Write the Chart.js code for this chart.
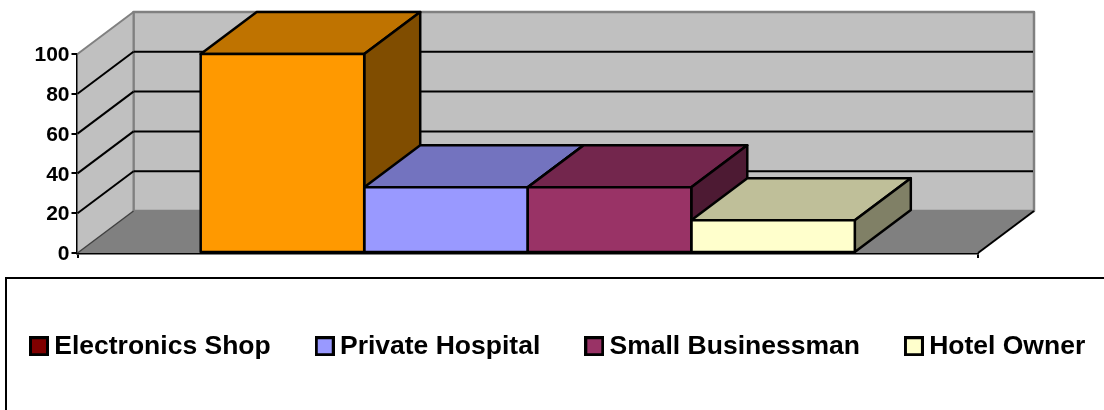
<!DOCTYPE html>
<html>
<head>
<meta charset="utf-8">
<style>
  html, body { margin: 0; padding: 0; background: #ffffff; }
  canvas { display: block; }
</style>
<script src="https://cdn.jsdelivr.net/npm/chart.js@4/dist/chart.umd.min.js"></script>
</head>
<body>
<canvas id="chart" width="1104" height="410"></canvas>
<script>
// Survey shares per respondent group
const categories = [''];
const seriesNames = ['Electronics Shop', 'Private Hospital', 'Small Businessman', 'Hotel Owner'];
const seriesValues = [100, 33, 33, 16.5];
const barColors = ['#FF9900', '#9999FF', '#993366', '#FFFFCC'];
const swatchColors = ['#800000', '#9999FF', '#993366', '#FFFFCC'];
const yTickStep = 20;
const yMax = 100;

// Oblique projection offset of the box depth, in pixels
const DEPTH_X = 56;
const DEPTH_Y = -42;
const WALL = '#C0C0C0';
const FLOOR = '#808080';
const WALL_EDGE = '#808080';
const INK = '#000000';
const BAR_LINE = 2.5;

function shade(hex, factor) {
  const n = parseInt(hex.slice(1), 16);
  const c = [n >> 16, (n >> 8) & 255, n & 255].map(v => Math.round(v * factor));
  return `rgb(${c[0]},${c[1]},${c[2]})`;
}

function poly(ctx, pts, fill, stroke, lw) {
  ctx.beginPath();
  pts.forEach((p, i) => (i ? ctx.lineTo(p[0], p[1]) : ctx.moveTo(p[0], p[1])));
  ctx.closePath();
  if (fill) { ctx.fillStyle = fill; ctx.fill(); }
  if (stroke) { ctx.strokeStyle = stroke; ctx.lineWidth = lw; ctx.lineJoin = 'round'; ctx.stroke(); }
}

function segment(ctx, x0, y0, x1, y1, color, lw) {
  ctx.beginPath();
  ctx.moveTo(x0, y0);
  ctx.lineTo(x1, y1);
  ctx.strokeStyle = color;
  ctx.lineWidth = lw;
  ctx.stroke();
}

function swatch(color) {
  const c = document.createElement('canvas');
  c.width = 20;
  c.height = 20;
  const g = c.getContext('2d');
  g.fillStyle = INK;
  g.fillRect(0, 0, 20, 20);
  g.fillStyle = color;
  g.fillRect(3, 3, 14, 14);
  return c;
}

// Walls, floor and gridlines behind the bars
const box3d = {
  id: 'box3d',
  beforeDatasetsDraw(chart) {
    const { ctx, chartArea: a, scales: { y } } = chart;
    const backL = a.left + DEPTH_X, backR = a.right + DEPTH_X;
    const backT = a.top + DEPTH_Y, backB = a.bottom + DEPTH_Y;
    ctx.save();
    poly(ctx, [[backL, backT], [backR, backT], [backR, backB], [backL, backB]], WALL, WALL_EDGE, 2.5);
    poly(ctx, [[a.left, a.bottom], [backL, backB], [backL, backT], [a.left, a.top]], WALL);
    segment(ctx, a.left, a.top, backL, backT, WALL_EDGE, 2);
    poly(ctx, [[a.left, a.bottom], [a.right, a.bottom], [backR, backB], [backL, backB]], FLOOR);
    segment(ctx, backL, backB, backR, backB, WALL_EDGE, 2);
    segment(ctx, backL, backT, backL, backB, WALL_EDGE, 2);
    y.ticks.forEach(t => {
      if (t.value === 0 || t.value === yMax) return;
      const py = y.getPixelForValue(t.value);
      segment(ctx, a.left, py, backL, py + DEPTH_Y, INK, 2);
      segment(ctx, backL, py + DEPTH_Y, backR - 1, py + DEPTH_Y, INK, 2);
    });
    segment(ctx, a.left, a.bottom, backL, backB, '#404040', 1.5);
    segment(ctx, a.right, a.bottom, backR, backB, INK, 2);

    // Top and side face of every bar, extruded from the bar rectangle
    chart.data.datasets.forEach((ds, i) => {
      const bar = chart.getDatasetMeta(i).data[0];
      const l = bar.x - bar.width / 2, r = bar.x + bar.width / 2;
      const top = bar.y, base = bar.base;
      poly(ctx, [[l, top], [r, top], [r + DEPTH_X, top + DEPTH_Y], [l + DEPTH_X, top + DEPTH_Y]],
        shade(ds.backgroundColor, 0.75), INK, BAR_LINE);
      poly(ctx, [[r, top], [r + DEPTH_X, top + DEPTH_Y], [r + DEPTH_X, base + DEPTH_Y], [r, base]],
        shade(ds.backgroundColor, 0.5), INK, BAR_LINE);
    });
    ctx.restore();
  },
  // Shared outline of the front faces, so neighbouring bars meet on one line
  afterDatasetsDraw(chart) {
    const { ctx } = chart;
    ctx.save();
    chart.data.datasets.forEach((ds, i) => {
      const bar = chart.getDatasetMeta(i).data[0];
      const l = bar.x - bar.width / 2, r = bar.x + bar.width / 2;
      poly(ctx, [[l, bar.y], [r, bar.y], [r, bar.base], [l, bar.base]], null, INK, BAR_LINE);
    });
    ctx.restore();
  },
  // Frame around the legend, which runs off the right and bottom of the canvas
  beforeDraw(chart) {
    const { ctx, width, height } = chart;
    ctx.save();
    ctx.beginPath();
    ctx.moveTo(6, height);
    ctx.lineTo(6, 278);
    ctx.lineTo(width, 278);
    ctx.strokeStyle = INK;
    ctx.lineWidth = 2;
    ctx.stroke();
    ctx.restore();
  },
  // Legend sits in its own frame below the plot
  afterLayout(chart) {
    const lg = chart.legend;
    const pad = lg.options.labels.padding;
    lg.left = 37 - pad;
    lg.right = chart.width + 400;
    lg.top = 333 - pad;
    lg.bottom = chart.height;
  }
};

new Chart(document.getElementById('chart'), {
  type: 'bar',
  data: {
    labels: categories,
    datasets: seriesNames.map((name, i) => ({
      label: name,
      data: [seriesValues[i]],
      backgroundColor: barColors[i],
      borderWidth: 0,
      categoryPercentage: 0.7264,
      barPercentage: 1
    }))
  },
  options: {
    responsive: false,
    animation: false,
    layout: { padding: { top: 54, right: 126, left: 0, bottom: 0 } },
    plugins: {
      title: { display: false },
      tooltip: { enabled: false },
      legend: {
        display: true,
        position: 'chartArea',
        align: 'start',
        labels: {
          color: INK,
          font: { family: '"Liberation Sans", Arial, sans-serif', weight: 'bold', size: 26.5 },
          usePointStyle: true,
          pointStyleWidth: 4,
          padding: 52,
          generateLabels: chart => chart.data.datasets.map((ds, i) => ({
            text: ds.label,
            fontColor: INK,
            pointStyle: swatch(swatchColors[i]),
            hidden: false,
            datasetIndex: i
          }))
        }
      }
    },
    scales: {
      x: {
        afterFit(scale) { scale.height = 157; },
        grid: { display: true, drawOnChartArea: false, color: INK, lineWidth: 2, tickLength: 5 },
        border: { display: true, color: INK, width: 2.5 },
        ticks: { display: false }
      },
      y: {
        min: 0,
        max: yMax,
        afterFit(scale) { scale.width = 77.5; },
        grid: { display: true, drawOnChartArea: false, color: INK, lineWidth: 2, tickLength: 6 },
        border: { display: true, color: INK, width: 2.5 },
        ticks: {
          stepSize: yTickStep,
          color: INK,
          padding: 2,
          labelOffset: 1.5,
          font: { family: '"Liberation Sans", Arial, sans-serif', weight: 'bold', size: 21 }
        }
      }
    }
  },
  plugins: [box3d]
});
</script>
</body>
</html>
